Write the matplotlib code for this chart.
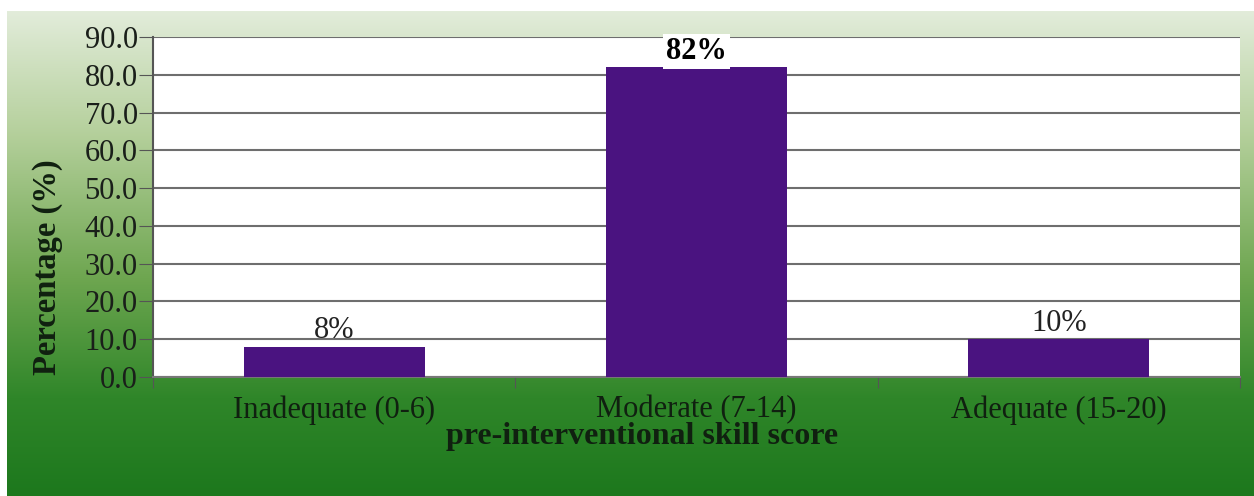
import numpy as np
import matplotlib.pyplot as plt
from matplotlib.colors import LinearSegmentedColormap

# chart data
categories = ['Inadequate (0-6)', 'Moderate (7-14)', 'Adequate (15-20)']
percentages = [8, 82, 10]
bar_labels = ['8%', '82%', '10%']
y_ticks = [0, 10, 20, 30, 40, 50, 60, 70, 80, 90]

plt.rcParams['font.family'] = ['Liberation Serif', 'DejaVu Serif']

fig = plt.figure(figsize=(12.54, 4.96), dpi=100)
fig.patch.set_facecolor('white')

# green gradient background frame
bg = fig.add_axes([7 / 1254, 0, 1 - 7 / 1254, 1 - 11 / 496])
bg.set_axis_off()
green = LinearSegmentedColormap.from_list(
    'bg', [(0.0, '#e2ecda'), (0.25, '#b5d09c'), (0.55, '#6ea650'),
           (0.8, '#2f8629'), (1.0, '#1d781d')])
grad = np.linspace(0, 1, 256).reshape(-1, 1)
bg.imshow(grad, aspect='auto', cmap=green, extent=[0, 1, 0, 1])

# main plot area
ax = fig.add_axes([153 / 1254, 1 - 377 / 496, (1240 - 153) / 1254, (377 - 37) / 496])
ax.set_facecolor('white')
x = np.arange(len(categories))
bars = ax.bar(x, percentages, width=0.5, color='#4a1380', zorder=3)

ax.set_xlim(-0.5, 2.5)
ax.set_ylim(0, 90)
ax.set_yticks(y_ticks)
ax.set_yticklabels([f'{v:.1f}' for v in y_ticks], fontsize=22, color='#1a1f1a')
ax.yaxis.grid(True, color='#6e6e6e', linewidth=1.5, zorder=1)
ax.set_axisbelow(True)

# category ticks between groups, labels at centres
ax.set_xticks([-0.5, 0.5, 1.5, 2.5])
ax.set_xticklabels([])
ax.set_xticks(x, minor=True)
ax.set_xticklabels(categories, minor=True, fontsize=22, color='#102010')
ax.tick_params(axis='x', which='minor', length=0, pad=13)
ax.tick_params(axis='x', which='major', length=8, color='#555555', direction='out')
ax.tick_params(axis='y', length=10, color='#555555', direction='out', pad=1)

for side in ['top', 'right']:
    ax.spines[side].set_visible(False)
ax.spines['left'].set_color('#555555')
ax.spines['bottom'].set_color('#777777')
ax.spines['left'].set_linewidth(1.5)
ax.spines['bottom'].set_linewidth(1.5)

ax.set_ylabel('Percentage (%)', fontsize=23.5, fontweight='bold', color='#102010', va='center')
ax.yaxis.set_label_coords(-0.0975, 0.324)
ax.set_xlabel('pre-interventional skill score', fontsize=23, fontweight='bold',
              color='#102010', va='center')
ax.xaxis.set_label_coords(0.45, -0.175)

# value labels above bars
for i, (val, lab) in enumerate(zip(percentages, bar_labels)):
    if val == max(percentages):
        ax.annotate(lab, (x[i], val), xytext=(0, 1), textcoords='offset points',
                    ha='center', va='bottom', fontsize=22, fontweight='bold',
                    bbox=dict(facecolor='white', edgecolor='none', pad=2), zorder=5)
    else:
        ax.annotate(lab, (x[i], val), xytext=(0, 1), textcoords='offset points',
                    ha='center', va='bottom', fontsize=22, color='#222222', zorder=5)

fig.savefig('out.png', dpi=100)
